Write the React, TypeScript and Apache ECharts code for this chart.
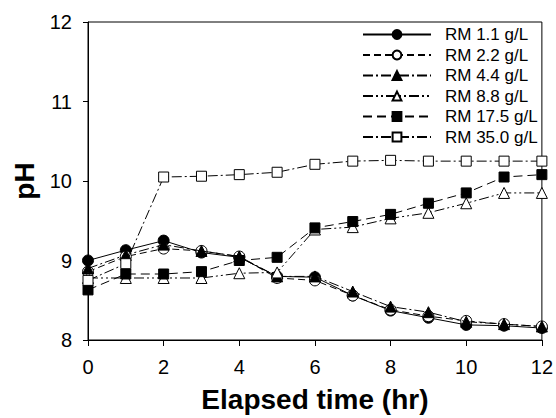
import React, { useEffect, useRef } from "react";
import * as echarts from "echarts";

const hours = [0, 1, 2, 3, 4, 5, 6, 7, 8, 9, 10, 11, 12];
const seriesNames = ["RM 1.1 g/L", "RM 2.2 g/L", "RM 4.4 g/L", "RM 8.8 g/L", "RM 17.5 g/L", "RM 35.0 g/L"];
const rm11 = [9.0, 9.13, 9.25, 9.1, 9.04, 8.8, 8.79, 8.56, 8.37, 8.28, 8.19, 8.18, 8.15];
const rm22 = [8.86, 9.05, 9.15, 9.12, 9.05, 8.78, 8.75, 8.56, 8.38, 8.3, 8.24, 8.2, 8.17];
const rm44 = [8.9, 9.07, 9.2, 9.12, 9.05, 8.8, 8.8, 8.61, 8.42, 8.35, 8.23, 8.2, 8.17];
const rm88 = [8.78, 8.78, 8.78, 8.78, 8.84, 8.85, 9.39, 9.42, 9.53, 9.6, 9.72, 9.85, 9.85];
const rm175 = [8.63, 8.83, 8.83, 8.86, 9.0, 9.04, 9.41, 9.49, 9.58, 9.72, 9.85, 10.05, 10.08];
const rm350 = [8.75, 8.96, 10.05, 10.06, 10.08, 10.11, 10.21, 10.25, 10.26, 10.25, 10.25, 10.25, 10.25];
const yTicks = [8, 9, 10, 11, 12];
const xTicks = [0, 2, 4, 6, 8, 10, 12];

const FONT = "'Liberation Sans', Arial, sans-serif";

export default function App() {
  const ref = useRef<HTMLDivElement>(null);
  useEffect(() => {
    if (!ref.current) return;
    const chart = echarts.init(ref.current, undefined, { renderer: "svg" });
    const values = [rm11, rm22, rm44, rm88, rm175, rm350];
    const styles = [
      { symbol: "circle", fill: "#000", dash: "solid" as any, size: 11 },
      { symbol: "circle", fill: "#fff", dash: [7, 4], size: 11 },
      { symbol: "triangle", fill: "#000", dash: [10, 3, 2, 3], size: 11 },
      { symbol: "triangle", fill: "#fff", dash: [10, 3, 2, 3, 2, 3], size: 11 },
      { symbol: "rect", fill: "#000", dash: [9, 5], size: 10 },
      { symbol: "rect", fill: "#fff", dash: [10, 3, 2, 3], size: 10 },
    ];
    const series = seriesNames.map((name, i) => ({
      name,
      type: "line",
      data: hours.map((h, j) => [h, values[i][j]]),
      symbol: styles[i].symbol,
      symbolSize: styles[i].size,
      showAllSymbol: true,
      lineStyle: { color: "#000", width: 1, type: styles[i].dash },
      itemStyle: { color: styles[i].fill, borderColor: "#000", borderWidth: 1 },
      z: 2 + i,
    }));
    chart.setOption({
      animation: false,
      backgroundColor: "#fff",
      textStyle: { fontFamily: FONT },
      grid: { left: 88, right: 13, top: 22, bottom: 74, show: true, borderColor: "#000", borderWidth: 1 },
      legend: {
        data: seriesNames,
        orient: "vertical",
        left: 357,
        top: 21,
        itemWidth: 68,
        itemHeight: 11,
        itemGap: 3.5,
        textStyle: { fontSize: 17, color: "#000", fontFamily: FONT, padding: [0, 0, 0, 9] },
      },
      xAxis: {
        type: "value",
        min: 0,
        max: 12,
        interval: 2,
        name: "Elapsed time (hr)",
        nameLocation: "middle",
        nameGap: 45,
        nameTextStyle: { fontSize: 28, fontWeight: "bold", color: "#000", fontFamily: FONT },
        axisLine: { lineStyle: { color: "#000", width: 1 } },
        axisTick: { show: true, length: 6, lineStyle: { color: "#000" } },
        axisLabel: { fontSize: 20, color: "#000", margin: 17, fontFamily: FONT },
        splitLine: { show: false },
      },
      yAxis: {
        type: "value",
        min: 8,
        max: 12,
        interval: 1,
        name: "pH",
        nameLocation: "middle",
        nameGap: 50,
        nameRotate: 90,
        nameTextStyle: { fontSize: 28, fontWeight: "bold", color: "#000", fontFamily: FONT },
        axisLine: { lineStyle: { color: "#000", width: 1 } },
        axisTick: { show: true, length: 5, lineStyle: { color: "#000" } },
        axisLabel: { fontSize: 20, color: "#000", margin: 16, fontFamily: FONT },
        splitLine: { show: false },
      },
      series,
    });
    return () => chart.dispose();
  }, []);
  return <div ref={ref} style={{ width: 556, height: 418, position: "absolute", left: 0, top: 0 }} />;
}
